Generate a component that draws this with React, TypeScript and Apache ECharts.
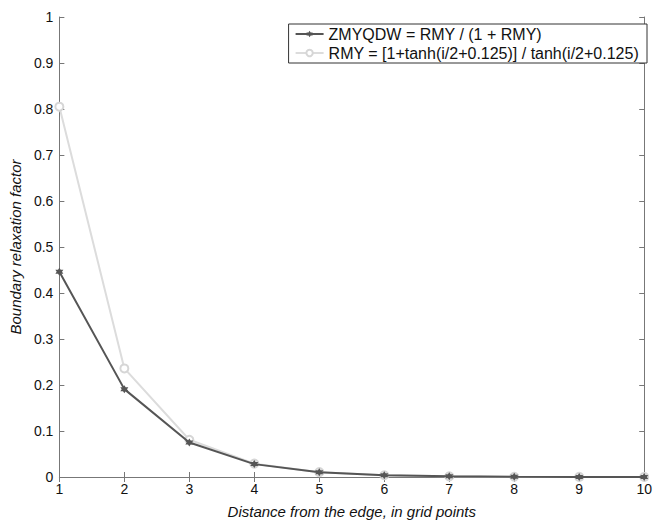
import React, { useEffect, useRef } from "react";
import * as echarts from "echarts";

const xValues = [1, 2, 3, 4, 5, 6, 7, 8, 9, 10];
const zmyqdw = [0.446, 0.191, 0.075, 0.028, 0.0104, 0.0039, 0.0014, 0.0005, 0.0002, 0.0001];
const rmy = [0.805, 0.236, 0.081, 0.029, 0.0105, 0.0039, 0.0014, 0.0005, 0.0002, 0.0001];
const seriesNames = [
  "ZMYQDW = RMY / (1 + RMY)",
  "RMY = [1+tanh(i/2+0.125)] / tanh(i/2+0.125)",
];
const xLabel = "Distance from the edge, in grid points";
const yLabel = "Boundary relaxation factor";

const FONT = "Liberation Sans, Arial, Helvetica, sans-serif";

export default function App() {
  const ref = useRef<HTMLDivElement>(null);
  useEffect(() => {
    if (!ref.current) return;
    const chart = echarts.init(ref.current, null, { renderer: "svg" });
    const axisLine = { show: true, lineStyle: { color: "#777", width: 1 } };
    const axisTick = { show: true, inside: true, length: 5, lineStyle: { color: "#777" } };
    chart.setOption({
      animation: false,
      backgroundColor: "#fff",
      textStyle: { fontFamily: FONT },
      grid: { left: 56, right: 6, top: 17, bottom: 40, containLabel: false },
      legend: {
        show: true,
        orient: "vertical",
        right: 8,
        top: 24,
        itemWidth: 28,
        itemHeight: 8,
        itemGap: 3,
        padding: [2, 8, 2, 6],
        borderColor: "#333",
        borderWidth: 1,
        backgroundColor: "#fff",
        borderRadius: 0,
        textStyle: { fontSize: 16, color: "#111", fontFamily: FONT },
        data: seriesNames,
      },
      xAxis: [
        {
          type: "value",
          min: 1,
          max: 10,
          interval: 1,
          position: "bottom",
          name: xLabel,
          nameLocation: "middle",
          nameGap: 27,
          nameTextStyle: { fontStyle: "italic", fontSize: 15, color: "#111", fontFamily: FONT },
          axisLine,
          axisTick,
          axisLabel: { fontSize: 14, color: "#111", margin: 5, fontFamily: FONT },
          splitLine: { show: false },
        },
        {
          type: "value",
          min: 1,
          max: 10,
          interval: 1,
          position: "top",
          axisLine,
          axisTick,
          axisLabel: { show: false },
          splitLine: { show: false },
        },
      ],
      yAxis: [
        {
          type: "value",
          min: 0,
          max: 1,
          interval: 0.1,
          position: "left",
          name: yLabel,
          nameLocation: "middle",
          nameGap: 36,
          nameTextStyle: { fontStyle: "italic", fontSize: 15, color: "#111", fontFamily: FONT },
          axisLine,
          axisTick,
          axisLabel: {
            fontSize: 14,
            color: "#111",
            margin: 6,
            fontFamily: FONT,
            formatter: (v: number) => (Math.round(v * 10) / 10).toString(),
          },
          splitLine: { show: false },
        },
        {
          type: "value",
          min: 0,
          max: 1,
          interval: 0.1,
          position: "right",
          axisLine,
          axisTick,
          axisLabel: { show: false },
          splitLine: { show: false },
        },
      ],
      series: [
        {
          name: seriesNames[1],
          type: "line",
          data: xValues.map((x, i) => [x, rmy[i]]),
          symbol: "circle",
          symbolSize: 8,
          showSymbol: true,
          lineStyle: { color: "#dcdcdc", width: 2 },
          itemStyle: { color: "#fff", borderColor: "#d6d6d6", borderWidth: 2 },
          z: 2,
        },
        {
          name: seriesNames[0],
          type: "line",
          data: xValues.map((x, i) => [x, zmyqdw[i]]),
          symbol: "path://M0,-10 L2.9,-5 L8.7,-5 L5.8,0 L8.7,5 L2.9,5 L0,10 L-2.9,5 L-8.7,5 L-5.8,0 L-8.7,-5 L-2.9,-5 Z",
          symbolSize: 8,
          showSymbol: true,
          lineStyle: { color: "#555", width: 2 },
          itemStyle: { color: "#555" },
          z: 3,
        },
      ],
    });
    return () => chart.dispose();
  }, []);
  return <div ref={ref} style={{ width: 655, height: 524, position: "absolute", left: 0, top: 0 }} />;
}
